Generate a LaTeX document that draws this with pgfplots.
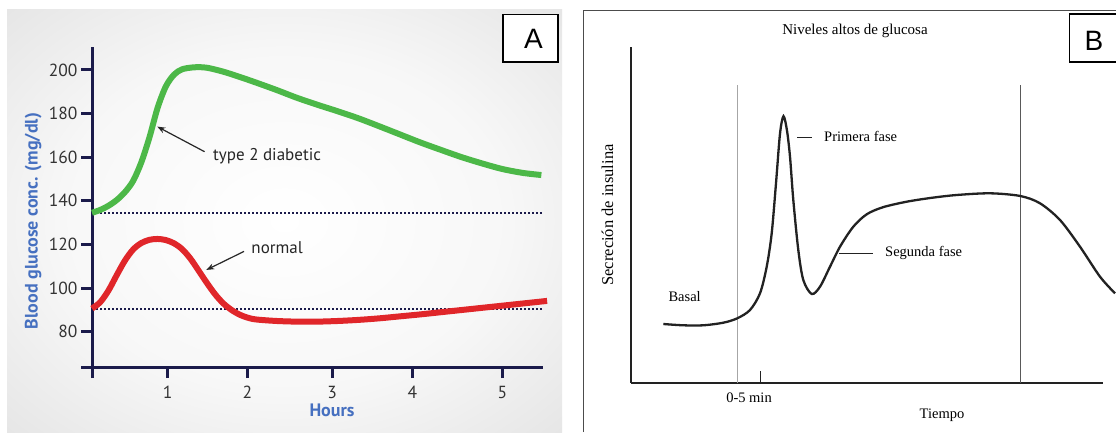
\documentclass[border=0pt]{standalone}
\usepackage{pgfplots}
\pgfplotsset{compat=1.18}
\usetikzlibrary{arrows.meta}
\usepackage{fontspec}
\setmainfont{Liberation Serif}
\newfontfamily\sfA{PT Sans}
\newfontfamily\arial{Liberation Sans}
\definecolor{navy}{HTML}{1B1B4B}
\definecolor{lblue}{HTML}{4670C0}
\definecolor{cgreen}{HTML}{4CB848}
\definecolor{cred}{HTML}{E0262A}
\definecolor{ticktxt}{HTML}{333333}
\definecolor{bline}{HTML}{222222}
\pgfdeclareradialshading{bgA}{\pgfpoint{0bp}{0bp}}{color(0bp)=(white); color(20bp)=(white!97!black); color(38bp)=(black!11); color(50bp)=(black!26)}
\begin{document}
\begin{tikzpicture}
\useasboundingbox (0,0) rectangle (1116pt,432pt);
\clip (0,0) rectangle (1116pt,432pt);
\fill[white] (0,0) rectangle (1116pt,432pt);
% ---------- Panel A background ----------
\shade[shading=bgA] (7pt,0pt) rectangle (562pt,422pt);
% ---------- Panel A axis ----------
\begin{axis}[at={(92pt,65pt)}, anchor=south west, scale only axis,
  width=451pt, height=320pt,
  xmin=0, xmax=5.5, ymin=63.8, ymax=210.5, clip=false,
  axis x line*=bottom, axis y line*=left,
  axis line style={draw=navy, line width=3pt, -},
  x axis line style={-}, y axis line style={-},
  xtick={0,0.923,1.894,2.930,3.906,5.004}, xticklabels={,1,2,3,4,5},
  ytick={63.8,80,100,120,140,160,180,200},
  yticklabels={,80,100,120,140,160,180,200},
  tick align=outside, major tick length=11pt,
  tick style={draw=navy, line width=3pt},
  /pgf/number format/assume math mode=true,
  ticklabel style={font=\sfA\fontsize{17.5}{17.5}\selectfont, text=ticktxt},
  xticklabel style={yshift=-5pt},
]
\addplot[draw=navy, line width=2pt, dash pattern=on 1.8pt off 2.2pt] coordinates {(0,134.3) (5.5,134.3)};
\addplot[draw=navy, line width=2pt, dash pattern=on 1.8pt off 2.2pt] coordinates {(0,90.4) (5.5,90.4)};
\addplot[smooth, draw=cgreen, line width=6pt] coordinates {
(0,134.5) (0.1,135.8) (0.2,137.7) (0.3,140.3) (0.4,143.9) (0.5,149.0)
(0.6,157.5) (0.7,169.0) (0.8,182.6) (0.9,192.4) (1.0,197.8) (1.1,200.3)
(1.25,201.2) (1.4,201.0) (1.6,199.2) (1.8,196.8) (2.0,194.2) (2.25,190.8)
(2.5,187.2) (2.75,184.0) (3.0,181.0) (3.25,177.8) (3.5,174.2) (3.75,170.5)
(4.0,166.8) (4.25,163.4) (4.5,160.1) (4.75,157.2) (5.0,154.6) (5.25,152.8) (5.48,151.8)};
\addplot[smooth, draw=cred, line width=6pt] coordinates {
(0,90.6) (0.1,93.5) (0.2,98.8) (0.3,105.8) (0.4,112.5) (0.5,117.6) (0.6,120.6)
(0.7,122.1) (0.8,122.5) (0.9,122.0) (1.0,120.5) (1.1,117.8) (1.2,113.5)
(1.3,108.0) (1.4,102.4) (1.5,97.2) (1.6,93.0) (1.7,90.0) (1.8,87.8) (1.9,86.4)
(2.0,85.6) (2.25,84.9) (2.5,84.6) (2.75,84.6) (3.0,84.9) (3.25,85.4) (3.5,86.1)
(3.75,87.0) (4.0,87.9) (4.25,88.9) (4.5,89.9) (4.75,90.9) (5.0,91.9) (5.25,92.9) (5.55,94.1)};
\node[anchor=base west, font=\sfA\fontsize{17}{17}\selectfont, text=black!85] at (axis cs:1.435,158.3) {type 2 diabetic};
\draw[-{Stealth[length=8pt,width=6pt]}, line width=1.2pt, black!85] (axis cs:1.373,162.5) -- (axis cs:0.796,174.0);
\node[anchor=base west, font=\sfA\fontsize{17}{17}\selectfont, text=black!85] at (axis cs:1.902,115.9) {normal};
\draw[-{Stealth[length=8pt,width=6pt]}, line width=1.2pt, black!85] (axis cs:1.854,116.8) -- (axis cs:1.394,108.3);
\end{axis}
\node[anchor=base, font=\sfA\bfseries\fontsize{18}{18}\selectfont, text=lblue] at (332pt,15.3pt) {Hours};
\node[anchor=base, rotate=90, font=\sfA\bfseries\fontsize{18}{18}\selectfont, text=lblue] at (37.5pt,211pt) {Blood glucose conc. (mg/dl)};
\draw[line width=1.5pt, fill=white] (503pt,370pt) rectangle (558pt,417.3pt);
\node[font=\arial\fontsize{28}{28}\selectfont] at (533.5pt,392.8pt) {A};
% ---------- Panel B ----------
\draw[black!70, line width=1.3pt] (583.5pt,0pt) -- (583.5pt,421.5pt) -- (1120pt,421.5pt);
\begin{axis}[at={(631pt,49.3pt)}, anchor=south west, scale only axis,
  width=472pt, height=336pt,
  xmin=0, xmax=472, ymin=0, ymax=336, clip=false,
  axis x line*=bottom, axis y line*=left,
  axis line style={draw=bline, line width=2.2pt, -},
  x axis line style={-}, y axis line style={-},
  xtick=\empty, ytick=\empty,
]
\draw[black!35, line width=1pt] (axis cs:106.3,0) -- (axis cs:106.3,297.7);
\draw[black!65, line width=0.9pt] (axis cs:389.3,0) -- (axis cs:389.3,297.7);
\draw[bline, line width=1.3pt] (axis cs:129.7,0) -- (axis cs:129.7,12);
\addplot[smooth, tension=0.5, draw=bline, line width=2.3pt] coordinates {
(32.3,58.7) (52.3,57.4) (72.3,57.4) (92.3,60) (106.3,64.4) (119,72.7) (129,89.4)
(135.7,116) (140.7,149.4) (145,199.4) (149,249) (152.5,266.5) (156,252) (159,226)
(162.3,182.7) (167.3,132.7) (172.3,102.7) (180.7,88.7) (189,96) (199,116)
(209,136) (222.3,156) (235.7,168.4) (252,175.5) (275.7,181) (300,184.8) (325.7,187.7) (359,189.4)
(389.3,186.7) (409,179.4) (429,162.7) (449,136) (469,106) (484,89.4)};
\draw[bline, line width=1pt] (axis cs:166,245.7) -- (axis cs:181.3,245.7);
\draw[bline, line width=1pt] (axis cs:208,129.4) -- (axis cs:242.3,129.4);
\node[anchor=base west, font=\fontsize{14.5}{14.5}\selectfont] at (axis cs:189.7,241) {Primera fase};
\node[anchor=base west, font=\fontsize{14.5}{14.5}\selectfont] at (axis cs:250.7,126.7) {Segunda fase};
\node[anchor=base west, font=\fontsize{14.5}{14.5}\selectfont] at (axis cs:34,81) {Basal};
\node[anchor=base, font=\fontsize{14.5}{14.5}\selectfont] at (axis cs:118,-20) {0-5 min};
\node[anchor=base, font=\fontsize{14.5}{14.5}\selectfont] at (axis cs:311,-35.6) {Tiempo};
\node[anchor=base, rotate=90, font=\fontsize{16.5}{16.5}\selectfont] at (axis cs:-18,167.7) {Secreción de insulina};
\node[anchor=base, font=\fontsize{15}{15}\selectfont] at (axis cs:224,348.4) {Niveles altos de glucosa};
\end{axis}
\draw[line width=1.5pt, fill=white] (1069.5pt,370pt) rectangle (1125pt,418pt);
\node[font=\arial\fontsize{28}{28}\selectfont] at (1094pt,390.8pt) {B};
\end{tikzpicture}
\end{document}
